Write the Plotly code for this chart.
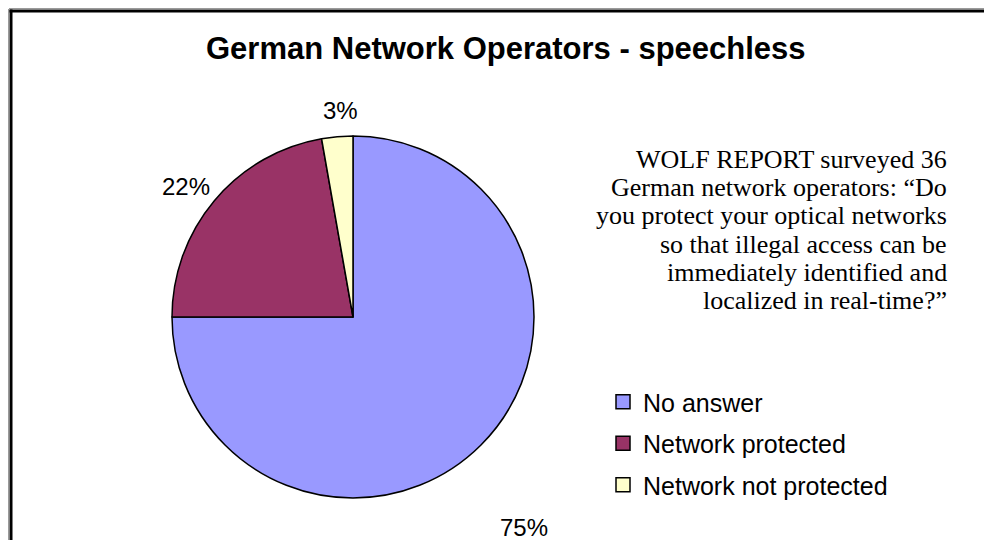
import math
import plotly.graph_objects as go

W, H = 984, 540

categories = ["No answer", "Network protected", "Network not protected"]
counts = [27, 8, 1]  # of 36 operators surveyed -> 75%, 22%, 3%
colors = ["#9999FF", "#993366", "#FFFFCC"]
title_text = "German Network Operators - speechless"
note_lines = [
    "WOLF REPORT surveyed 36",
    "German network operators: \u201cDo",
    "you protect your optical networks",
    "so that illegal access can be",
    "immediately identified and",
    "localized in real-time?\u201d",
]

# layout (page pixels)
PIE_CX, PIE_CY, PIE_R = 353, 317, 181
label_gap = [90, 31, 26]          # radial distance of each % label beyond the rim
label_turn = [6, -2, 1.4]         # small angular nudge of each label (degrees)


def px(x):
    return x / W


def py(y):
    return 1 - y / H


fig = go.Figure()
fig.add_trace(go.Pie(
    labels=categories,
    values=counts,
    sort=False,
    direction="clockwise",
    rotation=0,
    marker=dict(colors=colors, line=dict(color="black", width=1.5)),
    textinfo="none",
    textposition="none",
    domain=dict(x=[px(PIE_CX - PIE_R), px(PIE_CX + PIE_R)],
                y=[py(PIE_CY + PIE_R), py(PIE_CY - PIE_R)]),
    showlegend=False,
    hoverinfo="label+percent",
))

# legend entries (one group per category so the gap between rows can be set)
for name, col in zip(categories, colors):
    fig.add_trace(go.Scatter(
        x=[None], y=[None], mode="markers", name=name,
        legendgroup=name,
        marker=dict(symbol="square", size=14, color=col,
                    line=dict(color="black", width=1.5)),
        hoverinfo="skip",
    ))

annotations = [dict(
    text=f"<b>{title_text}</b>", x=px(506), y=py(48),
    xref="paper", yref="paper", xanchor="center", yanchor="middle",
    showarrow=False,
    font=dict(family="Liberation Sans, Arial", size=31, color="black"),
)]

# percentage labels, placed from each slice's mid-angle
total = sum(counts)
start = 0.0
for c, gap, turn in zip(counts, label_gap, label_turn):
    frac = c / total
    mid = (start + frac / 2) * 360 + turn
    start += frac
    rr = PIE_R + gap
    lx = PIE_CX + rr * math.sin(math.radians(mid))
    ly = PIE_CY - rr * math.cos(math.radians(mid))
    annotations.append(dict(
        text=f"{round(frac * 100)}%", x=px(lx), y=py(ly),
        xref="paper", yref="paper", xanchor="center", yanchor="middle",
        showarrow=False,
        font=dict(family="Liberation Sans, Arial", size=24, color="black"),
    ))

line_y0 = 176
line_step = 28.2
for i, line in enumerate(note_lines):
    annotations.append(dict(
        text=line, x=px(949), y=py(line_y0 + i * line_step),
        xref="paper", yref="paper", xanchor="right", yanchor="bottom",
        showarrow=False,
        font=dict(family="Liberation Serif, Times New Roman", size=26, color="black"),
    ))

fig.update_layout(
    width=W, height=H,
    margin=dict(l=0, r=0, t=0, b=0),
    paper_bgcolor="white",
    plot_bgcolor="white",
    xaxis=dict(visible=False),
    yaxis=dict(visible=False),
    legend=dict(
        x=px(603), y=py(379), xanchor="left", yanchor="top",
        font=dict(family="Liberation Sans, Arial", size=25, color="black"),
        bgcolor="rgba(0,0,0,0)",
        tracegroupgap=6,
        itemclick=False,
    ),
    annotations=annotations,
    shapes=[
        dict(type="line", xref="paper", yref="paper",
             x0=px(9), x1=1, y0=py(8.5), y1=py(8.5),
             line=dict(color="#9a9a9a", width=1)),
        dict(type="line", xref="paper", yref="paper",
             x0=px(8.5), x1=px(8.5), y0=py(9), y1=0,
             line=dict(color="#9a9a9a", width=1)),
        dict(type="line", xref="paper", yref="paper",
             x0=px(9.5), x1=1, y0=py(11), y1=py(11),
             line=dict(color="black", width=3)),
        dict(type="line", xref="paper", yref="paper",
             x0=px(11), x1=px(11), y0=py(9.5), y1=0,
             line=dict(color="black", width=3)),
    ],
)

fig.write_html(
    "out.html",
    config={"displayModeBar": False},
    post_script=(
        "document.body.style.margin='0';"
        "document.body.style.overflow='hidden';"
        "document.documentElement.style.overflow='hidden';"
    ),
)
